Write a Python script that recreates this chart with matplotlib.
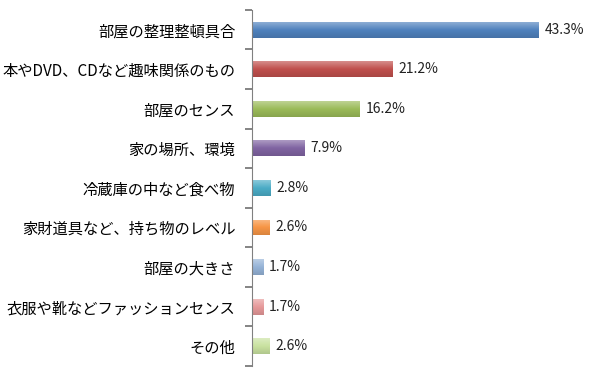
import numpy as np
import matplotlib.pyplot as plt
from matplotlib.colors import LinearSegmentedColormap, to_rgb

plt.rcParams['font.family'] = ['Noto Sans CJK JP', 'DejaVu Sans']

categories = ['部屋の整理整頓具合', '本やDVD、CDなど趣味関係のもの', '部屋のセンス',
              '家の場所、環境', '冷蔵庫の中など食べ物', '家財道具など、持ち物のレベル',
              '部屋の大きさ', '衣服や靴などファッションセンス', 'その他']
values = [43.3, 21.2, 16.2, 7.9, 2.8, 2.6, 1.7, 1.7, 2.6]
colors = ['#4F81BD', '#C0504D', '#9BBB59', '#8064A2', '#4BACC6', '#F79646',
          '#95B3D7', '#E6999A', '#C9E2A0']

def shade(c, f):
    r, g, b = to_rgb(c)
    if f > 0:
        return (r + (1 - r) * f, g + (1 - g) * f, b + (1 - b) * f)
    return (r * (1 + f), g * (1 + f), b * (1 + f))

fig = plt.figure(figsize=(6, 3.71), dpi=100)
ax = fig.add_axes([0.42, 0.0135, 0.552, 0.96])

y = np.arange(len(categories))
bars = ax.barh(y, values, height=0.4, color=colors)

# gradient fill, lighter on top, darker at bottom
for bar, c in zip(bars, colors):
    cmap = LinearSegmentedColormap.from_list('g', [shade(c, 0.35), c, shade(c, -0.12)])
    x0, y0 = bar.get_x(), bar.get_y()
    w, h = bar.get_width(), bar.get_height()
    grad = np.linspace(0, 1, 50).reshape(-1, 1)
    im = ax.imshow(grad, cmap=cmap, aspect='auto', extent=(x0, x0 + w, y0 + h, y0),
                   origin='upper', zorder=bar.get_zorder())
    im.set_clip_path(bar)

for v, yi in zip(values, y):
    ax.text(v + 0.9, yi, f'{v:.1f}%', va='center', ha='left', fontsize=10, color='#222222')

ax.set_xlim(0, 50)
ax.set_ylim(len(categories) - 0.5, -0.5)
ax.set_yticks(y)
ax.set_yticklabels(categories, fontsize=11)
ax.set_yticks(np.arange(-0.5, len(categories)), minor=True)
ax.tick_params(axis='y', which='major', length=0, pad=12)
ax.tick_params(axis='y', which='minor', left=True, length=5, width=1.2,
               color='#707070', direction='out')
ax.set_xticks([])
for s in ['top', 'right', 'bottom']:
    ax.spines[s].set_visible(False)
ax.spines['left'].set_color('#808080')

fig.savefig('out.png', dpi=100)
